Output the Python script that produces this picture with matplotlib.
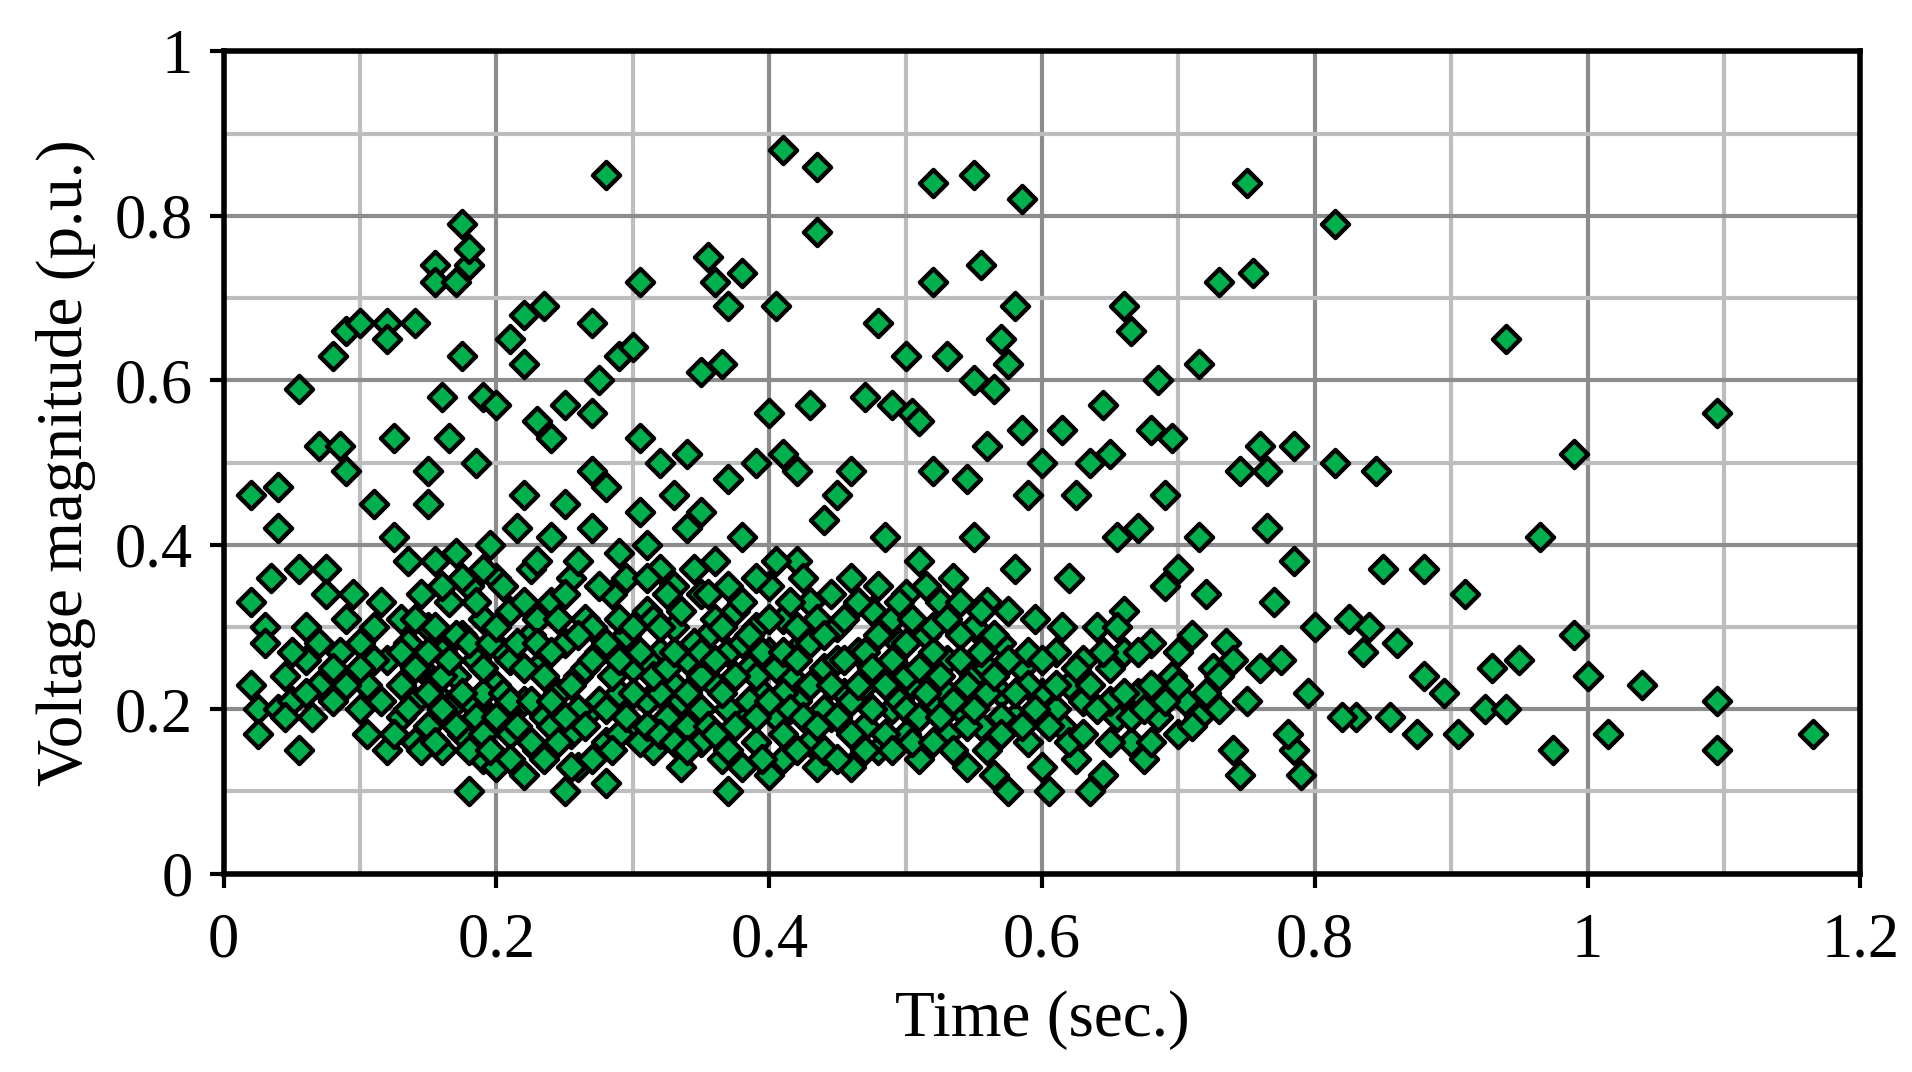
import matplotlib
matplotlib.use("Agg")
import matplotlib.pyplot as plt
import numpy as np

sparse = [(0.02,0.46),(0.04,0.47),(0.04,0.42),(0.055,0.59),(0.07,0.52),(0.08,0.63),(0.085,0.52),(0.09,0.66),(0.09,0.49),(0.1,0.67),(0.11,0.45),(0.12,0.67),(0.12,0.65),(0.125,0.53),(0.14,0.67),(0.15,0.49),(0.155,0.74),(0.155,0.72),(0.16,0.58),(0.165,0.53),(0.17,0.72),(0.175,0.79),(0.175,0.63),(0.18,0.74),(0.18,0.76),(0.185,0.5),(0.19,0.58),(0.2,0.57),(0.21,0.65),(0.22,0.62),(0.22,0.68),(0.23,0.55),(0.235,0.69),(0.24,0.53),(0.25,0.57),(0.27,0.67),(0.27,0.56),(0.275,0.6),(0.28,0.85),(0.29,0.63),(0.3,0.64),(0.305,0.72),(0.305,0.53),(0.32,0.5),(0.34,0.51),(0.35,0.61),(0.355,0.75),(0.36,0.72),(0.365,0.62),(0.37,0.69),(0.38,0.73),(0.39,0.5),(0.4,0.56),(0.405,0.69),(0.41,0.88),(0.41,0.51),(0.43,0.57),(0.435,0.86),(0.435,0.78),(0.46,0.49),(0.47,0.58),(0.48,0.67),(0.49,0.57),(0.5,0.63),(0.505,0.56),(0.51,0.55),(0.52,0.84),(0.52,0.72),(0.52,0.49),(0.53,0.63),(0.545,0.48),(0.55,0.85),(0.55,0.6),(0.555,0.74),(0.56,0.52),(0.565,0.59),(0.57,0.65),(0.575,0.62),(0.58,0.69),(0.585,0.82),(0.585,0.54),(0.59,0.46),(0.6,0.5),(0.615,0.54),(0.625,0.46),(0.635,0.5),(0.645,0.57),(0.65,0.51),(0.655,0.41),(0.66,0.69),(0.665,0.66),(0.67,0.42),(0.68,0.54),(0.685,0.6),(0.69,0.46),(0.695,0.53),(0.7,0.37),(0.715,0.62),(0.715,0.41),(0.73,0.72),(0.745,0.49),(0.75,0.84),(0.755,0.73),(0.76,0.52),(0.765,0.49),(0.765,0.42),(0.77,0.33),(0.785,0.52),(0.785,0.38),(0.815,0.79),(0.815,0.5),(0.845,0.49),(0.85,0.37),(0.88,0.37),(0.91,0.34),(0.94,0.65),(0.965,0.41),(0.99,0.51),(0.99,0.29),(0.95,0.26),(1.0,0.24),(1.04,0.23),(1.095,0.56),(1.095,0.21),(1.095,0.15),(1.165,0.17),(1.015,0.17),(0.975,0.15),(0.93,0.25),(0.925,0.2),(0.94,0.2),(0.905,0.17),(0.895,0.22),(0.875,0.17),(0.88,0.24),(0.86,0.28),(0.855,0.19),(0.84,0.3),(0.835,0.27),(0.825,0.31),(0.83,0.19),(0.82,0.19),(0.8,0.3),(0.795,0.22),(0.79,0.12),(0.785,0.15),(0.78,0.17),(0.775,0.26),(0.76,0.25),(0.745,0.12),(0.74,0.15)]

dense = [(0.02,0.33),(0.02,0.23),(0.025,0.2),(0.025,0.17),(0.03,0.3),(0.03,0.28),(0.035,0.36),(0.04,0.2),(0.045,0.24),(0.05,0.21),(0.055,0.15),(0.055,0.37),(0.06,0.26),(0.06,0.3),(0.065,0.19),(0.07,0.23),(0.075,0.37),(0.075,0.34),(0.08,0.21),(0.085,0.27),(0.09,0.31),(0.095,0.34),(0.1,0.2),(0.1,0.28),(0.105,0.23),
(0.11,0.3),(0.115,0.33),(0.12,0.15),(0.12,0.26),(0.125,0.41),(0.13,0.19),(0.13,0.23),(0.135,0.38),(0.135,0.28),(0.14,0.16),(0.14,0.21),(0.145,0.34),(0.145,0.25),(0.15,0.18),(0.15,0.3),(0.155,0.22),(0.155,0.38),(0.16,0.15),(0.16,0.27),(0.165,0.2),(0.165,0.33),(0.17,0.24),(0.17,0.39),(0.175,0.17),(0.175,0.29),(0.18,0.1),(0.18,0.21),(0.18,0.35),(0.185,0.26),(0.19,0.14),(0.19,0.31),(0.195,0.19),(0.195,0.4),(0.2,0.23),(0.2,0.13),(0.2,0.36),
(0.205,0.27),(0.21,0.17),(0.21,0.32),(0.215,0.42),(0.22,0.21),(0.22,0.12),(0.225,0.29),(0.225,0.37),(0.23,0.15),(0.23,0.25),(0.235,0.19),(0.24,0.33),(0.24,0.41),(0.245,0.22),(0.25,0.1),(0.25,0.28),(0.255,0.17),(0.255,0.36),(0.26,0.24),(0.26,0.13),(0.265,0.31),(0.27,0.2),(0.27,0.42),(0.275,0.27),(0.28,0.11),(0.28,0.16),(0.285,0.34),(0.29,0.22),(0.29,0.39),(0.295,0.29),(0.3,0.18),(0.3,0.25),
(0.305,0.44),(0.31,0.21),(0.31,0.32),(0.315,0.15),(0.32,0.27),(0.32,0.37),(0.325,0.19),(0.33,0.23),(0.33,0.3),(0.335,0.13),(0.34,0.42),(0.34,0.26),(0.345,0.2),(0.35,0.34),(0.35,0.16),(0.355,0.29),(0.36,0.23),(0.36,0.38),(0.365,0.14),(0.37,0.27),(0.37,0.1),(0.375,0.32),(0.38,0.2),(0.38,0.41),(0.385,0.25),(0.39,0.16),(0.39,0.3),(0.395,0.22),(0.4,0.12),(0.4,0.35),(0.4,0.27),
(0.405,0.19),(0.41,0.31),(0.41,0.14),(0.415,0.24),(0.42,0.38),(0.42,0.21),(0.425,0.28),(0.43,0.16),(0.43,0.33),(0.435,0.13),(0.44,0.25),(0.44,0.43),(0.445,0.19),(0.45,0.3),(0.455,0.22),(0.46,0.13),(0.46,0.36),(0.465,0.27),(0.47,0.18),(0.475,0.32),(0.48,0.24),(0.48,0.15),(0.485,0.41),(0.49,0.2),(0.495,0.28),(0.5,0.17),(0.5,0.34),
(0.505,0.23),(0.51,0.38),(0.51,0.14),(0.515,0.29),(0.52,0.21),(0.525,0.33),(0.53,0.17),(0.53,0.26),(0.535,0.36),(0.54,0.2),(0.545,0.13),(0.55,0.3),(0.55,0.24),(0.555,0.18),(0.56,0.33),(0.565,0.12),(0.57,0.22),(0.57,0.28),(0.575,0.1),(0.58,0.19),(0.58,0.37),(0.585,0.25),(0.59,0.16),(0.595,0.31),(0.6,0.22),(0.6,0.13),
(0.605,0.1),(0.61,0.27),(0.615,0.18),(0.62,0.36),(0.62,0.23),(0.625,0.14),(0.63,0.21),(0.635,0.1),(0.64,0.3),(0.645,0.12),(0.65,0.25),(0.655,0.19),(0.66,0.32),(0.665,0.16),(0.67,0.22),(0.675,0.14),(0.68,0.28),(0.685,0.19),(0.69,0.35),(0.695,0.24),(0.7,0.17),(0.705,0.21),(0.71,0.29),(0.715,0.19),(0.72,0.34),(0.725,0.25),(0.73,0.2),(0.735,0.28),(0.74,0.26),(0.75,0.21),
(0.13,0.31),(0.16,0.24),(0.19,0.22),(0.21,0.26),(0.23,0.31),(0.24,0.18),(0.26,0.2),(0.27,0.3),(0.29,0.17),(0.31,0.26),(0.32,0.22),(0.33,0.35),(0.34,0.18),(0.35,0.24),(0.36,0.31),(0.37,0.2),(0.38,0.28),(0.39,0.24),(0.41,0.22),(0.42,0.3),(0.44,0.2),(0.45,0.26),(0.47,0.23),(0.49,0.31),(0.5,0.24),(0.52,0.27),(0.53,0.22),(0.54,0.29),(0.56,0.25),(0.57,0.19),(0.59,0.23),(0.61,0.2),(0.63,0.26),(0.65,0.21),(0.66,0.27),(0.68,0.23),(0.7,0.27),(0.31,0.4),(0.35,0.44),(0.28,0.47),(0.22,0.46),(0.45,0.46),(0.55,0.41),(0.42,0.49),(0.37,0.48),(0.33,0.46),(0.27,0.49),(0.19,0.37),(0.15,0.45),(0.25,0.45)]

dense2 = [(0.105,0.17),(0.11,0.26),(0.115,0.21),(0.125,0.17),(0.13,0.27),(0.135,0.2),(0.14,0.25),(0.14,0.31),(0.145,0.15),(0.15,0.22),(0.15,0.27),(0.155,0.16),(0.155,0.3),(0.16,0.2),(0.16,0.35),(0.165,0.26),(0.17,0.18),(0.17,0.29),(0.175,0.22),(0.175,0.36),(0.18,0.28),(0.18,0.15),(0.185,0.19),(0.185,0.33),(0.19,0.25),(0.19,0.17),(0.195,0.28),(0.195,0.15),(0.2,0.3),(0.2,0.19),(0.205,0.22),(0.205,0.35),(0.21,0.14),(0.21,0.21),(0.215,0.28),(0.215,0.18),(0.22,0.33),(0.22,0.25),(0.225,0.16),(0.225,0.21),(0.23,0.28),(0.23,0.38),(0.235,0.24),(0.235,0.14),(0.24,0.27),(0.24,0.21),(0.245,0.31),(0.245,0.16),(0.25,0.19),(0.25,0.34),(0.255,0.23),(0.255,0.13),(0.26,0.29),(0.26,0.38),(0.265,0.18),(0.265,0.25),(0.27,0.14),(0.27,0.26),(0.275,0.21),(0.275,0.35),(0.28,0.28),(0.28,0.2),(0.285,0.24),(0.285,0.15),(0.29,0.31),(0.29,0.26),(0.295,0.19),(0.295,0.36),(0.3,0.22),(0.3,0.3),(0.305,0.16),(0.305,0.27),(0.31,0.18),(0.31,0.36),(0.315,0.24),(0.315,0.31),(0.32,0.17),(0.32,0.3),(0.325,0.25),(0.325,0.34),(0.33,0.16),(0.33,0.27),(0.335,0.21),(0.335,0.32),(0.34,0.22),(0.34,0.15),(0.345,0.28),(0.345,0.37),(0.35,0.2),(0.35,0.27),(0.355,0.18),(0.355,0.34),(0.36,0.26),(0.36,0.17),(0.365,0.3),(0.365,0.22),(0.37,0.35),(0.37,0.15),(0.375,0.24),(0.375,0.18),(0.38,0.33),(0.38,0.13),(0.385,0.29),(0.385,0.21),(0.39,0.36),(0.39,0.19),(0.395,0.27),(0.395,0.14),(0.4,0.21),(0.4,0.31),(0.405,0.25),(0.405,0.38),(0.41,0.17),(0.41,0.27),(0.415,0.2),(0.415,0.33),(0.42,0.15),(0.42,0.26),(0.425,0.19),(0.425,0.36),(0.43,0.23),(0.43,0.28),(0.435,0.31),(0.435,0.18),(0.44,0.15),(0.44,0.29),(0.445,0.23),(0.445,0.34),(0.45,0.19),(0.45,0.14),(0.455,0.26),(0.455,0.31),(0.46,0.21),(0.46,0.17),(0.465,0.23),(0.465,0.33),(0.47,0.27),(0.47,0.15),(0.475,0.2),(0.475,0.25),(0.48,0.29),(0.48,0.35),(0.485,0.17),(0.485,0.23),(0.49,0.26),(0.49,0.15),(0.495,0.21),(0.495,0.33),(0.5,0.28),(0.5,0.2),(0.505,0.16),(0.505,0.31),(0.51,0.25),(0.51,0.19),(0.515,0.22),(0.515,0.35),(0.52,0.16),(0.52,0.3),(0.525,0.24),(0.525,0.19),(0.53,0.31),(0.535,0.21),(0.535,0.15),(0.54,0.26),(0.54,0.33),(0.545,0.23),(0.545,0.18),(0.55,0.2),(0.555,0.27),(0.555,0.32),(0.56,0.22),(0.56,0.15),(0.565,0.29),(0.565,0.24),(0.57,0.17),(0.575,0.26),(0.575,0.32),(0.58,0.22),(0.585,0.18),(0.59,0.27),(0.595,0.2),(0.6,0.26),(0.605,0.18),(0.61,0.23),(0.615,0.3),(0.62,0.16),(0.625,0.25),(0.63,0.17),(0.635,0.23),(0.64,0.2),(0.645,0.27),(0.65,0.16),(0.655,0.3),(0.66,0.22),(0.665,0.19),(0.67,0.27),(0.675,0.2),(0.68,0.16),(0.69,0.21),(0.7,0.23),(0.71,0.18),(0.72,0.22),(0.73,0.24),(0.06,0.22),(0.07,0.28),(0.08,0.25),(0.09,0.23),(0.1,0.25),(0.05,0.27),(0.045,0.19)]

time = [p[0] for p in sparse + dense + dense2]
voltage = [p[1] for p in sparse + dense + dense2]

plt.rcParams['font.family'] = ['Liberation Serif', 'DejaVu Serif']
fig = plt.figure(figsize=(19.12, 10.72), dpi=100)
ax = fig.add_axes([0.117, 0.185, 0.856, 0.767])
ax.set_xlim(0, 1.2)
ax.set_ylim(0, 1)
ax.set_xticks(np.arange(0, 1.21, 0.2))
ax.set_yticks(np.arange(0, 1.01, 0.2))
ax.set_xticks(np.arange(0.1, 1.2, 0.2), minor=True)
ax.set_yticks(np.arange(0.1, 1.0, 0.2), minor=True)
ax.set_xticklabels(['0', '0.2', '0.4', '0.6', '0.8', '1', '1.2'])
ax.set_yticklabels(['0', '0.2', '0.4', '0.6', '0.8', '1'])
ax.grid(which='major', color='#8c8c8c', linewidth=3)
ax.grid(which='minor', color='#bdbdbd', linewidth=3)
ax.set_axisbelow(True)
ax.tick_params(axis='x', which='major', labelsize=45, length=10, width=3, direction='out', pad=18)
ax.tick_params(axis='y', which='major', labelsize=45, length=10, width=3, direction='out', pad=12)
ax.tick_params(which='minor', length=0)
for s in ax.spines.values():
    s.set_linewidth(4)
ax.scatter(time, voltage, marker='D', s=190, facecolor='#00b04c', edgecolor='black', linewidths=3.2, zorder=3)
ax.set_xlabel('Time (sec.)', fontsize=47, labelpad=14)
ax.set_ylabel('Voltage magnitude (p.u.)', fontsize=47, labelpad=14)
fig.savefig('out.png', dpi=100)
